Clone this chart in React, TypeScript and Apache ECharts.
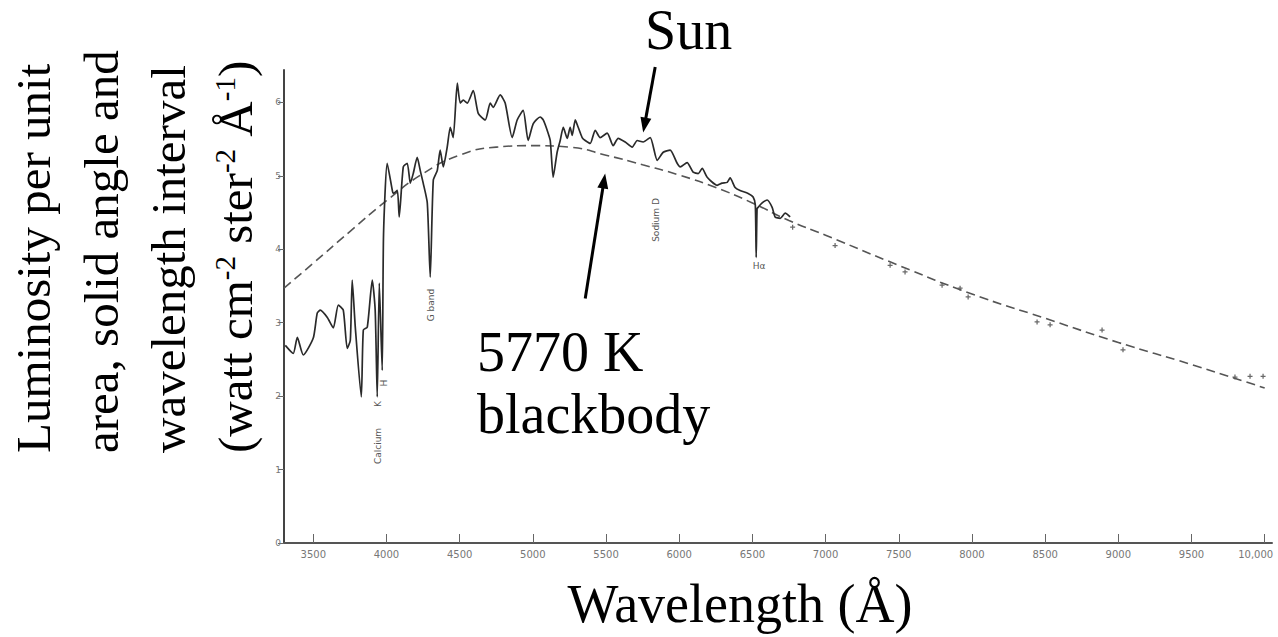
import React, { useEffect, useRef } from "react";
import * as echarts from "echarts";

const wavelengthTicks = [3500, 4000, 4500, 5000, 5500, 6000, 6500, 7000, 7500, 8000, 8500, 9000, 9500, 10000];
const luminosityTicks = [0, 1, 2, 3, 4, 5, 6];

const sunWavelength = [
  3309, 3363, 3391, 3432, 3500, 3527, 3548, 3596, 3637, 3671, 3705, 3732, 3753, 3766, 3787, 3828, 3842, 3869,
  3903, 3923, 3937, 3951, 3971, 3980, 4005, 4040, 4046, 4074, 4087, 4115, 4142, 4163, 4183, 4210, 4231, 4251,
  4279, 4299, 4320, 4347, 4367, 4388, 4415, 4436, 4456, 4484, 4504, 4525, 4552, 4593, 4627, 4675, 4709, 4729,
  4777, 4811, 4859, 4893, 4934, 4968, 5003, 5050, 5071, 5098, 5119, 5139, 5166, 5187, 5208, 5235, 5255, 5269,
  5290, 5310, 5337, 5358, 5392, 5426, 5460, 5508, 5549, 5583, 5631, 5679, 5713, 5754, 5802, 5850, 5891, 5938,
  5986, 6007, 6054, 6095, 6130, 6157, 6191, 6259, 6293, 6328, 6348, 6382, 6416, 6471, 6505, 6520, 6526, 6532,
  6539, 6567, 6601, 6635, 6655, 6690, 6724, 6758,
];
const sunLuminosity = [
  2.69, 2.58, 2.8, 2.56, 2.79, 3.13, 3.17, 3.07, 2.93, 3.24, 3.17, 2.65, 2.76, 3.58, 2.94, 1.99, 2.9, 2.94,
  3.58, 3.17, 1.99, 3.54, 2.35, 4.2, 5.17, 4.8, 4.76, 4.8, 4.44, 5.12, 5.17, 4.9, 5.03, 5.25, 5.07, 4.9,
  4.63, 3.62, 4.94, 5.07, 5.35, 5.12, 5.39, 5.66, 5.52, 6.26, 5.99, 6.03, 5.99, 6.16, 5.85, 5.76, 5.99, 5.93,
  6.1, 5.99, 5.52, 5.76, 5.89, 5.48, 5.71, 5.8, 5.76, 5.62, 5.48, 4.98, 5.32, 5.48, 5.66, 5.51, 5.66, 5.55,
  5.76, 5.66, 5.52, 5.48, 5.44, 5.62, 5.52, 5.58, 5.41, 5.51, 5.46, 5.39, 5.48, 5.46, 5.52, 5.21, 5.32, 5.35,
  5.17, 5.12, 5.18, 5.05, 5.03, 5.1, 4.98, 4.87, 4.9, 4.91, 4.97, 4.84, 4.8, 4.76, 4.71, 4.6, 3.89, 4.55,
  4.57, 4.63, 4.67, 4.57, 4.44, 4.42, 4.49, 4.44,
];

const blackbodyWavelength = [3300, 3500, 3750, 4000, 4250, 4500, 4750, 5000, 5250, 5500, 5750, 6000, 6250, 6500, 6750, 7000, 7500, 8000, 8500, 9000, 9500, 10000];
const blackbodyLuminosity = [3.47, 3.81, 4.24, 4.66, 5.03, 5.28, 5.39, 5.41, 5.39, 5.28, 5.15, 5.01, 4.84, 4.63, 4.39, 4.19, 3.78, 3.39, 3.06, 2.73, 2.43, 2.11];

const pointWavelength = [6775, 7065, 7441, 7543, 7796, 7919, 7974, 8445, 8534, 8889, 9032, 9797, 9900, 9989];
const pointLuminosity = [4.3, 4.05, 3.78, 3.69, 3.51, 3.47, 3.35, 3.01, 2.97, 2.9, 2.63, 2.26, 2.27, 2.27];

const sunArrowFrom = [5836, 6.48];
const sunArrowTo = [5754, 5.59];
const bodyArrowFrom = [5358, 3.33];
const bodyArrowTo = [5494, 5.03];

const yTitleLines = [
  "Luminosity per unit",
  "area, solid angle and",
  "wavelength interval",
  "(watt cm{sup|-2} ster{sup|-2} Å{sup|-1})",
];
const xTitle = "Wavelength (Å)";
const sunLabel = "Sun";
const bodyLabel = ["5770 K", "blackbody"];

const zip = (a: number[], b: number[]) => a.map((x, i) => [x, b[i]]);

export default function App() {
  const ref = useRef<HTMLDivElement>(null);

  useEffect(() => {
    if (!ref.current) return;
    const chart = echarts.init(ref.current, null, { renderer: "svg" });
    const serif = '"Liberation Serif", "Times New Roman", serif';
    const sans = '"DejaVu Sans", "Liberation Sans", sans-serif';
    const titleX = [33, 101, 168, 235];

    const smallLabel = (text: string, x: number, y: number, rotate = true) => ({
      type: "text",
      x,
      y,
      rotation: rotate ? Math.PI / 2 : 0,
      style: {
        text,
        fontSize: 9,
        fontFamily: sans,
        fill: "#555",
        align: "center",
        verticalAlign: "middle",
        textAlign: "center",
        textVerticalAlign: "middle",
      },
    });

    chart.setOption({
      animation: false,
      backgroundColor: "#ffffff",
      grid: { left: 284, right: 6, top: 70, bottom: 94, containLabel: false, outerBoundsMode: "none" },
      xAxis: {
        type: "value",
        min: 3300,
        max: 10050,
        splitLine: { show: false },
        axisLine: { show: true, onZero: false, lineStyle: { color: "#555", width: 2 } },
        axisTick: { show: true, inside: true, length: 9, customValues: wavelengthTicks, lineStyle: { color: "#666", width: 1 } },
        axisLabel: {
          customValues: wavelengthTicks,
          color: "#777",
          fontSize: 10,
          fontFamily: sans,
          margin: 6,
          formatter: (v: number) => (v === 10000 ? "{last|10,000}" : String(v)),
          rich: { last: { color: "#777", fontSize: 10, fontFamily: sans, padding: [0, 18, 0, 0] } },
        },
      },
      yAxis: {
        type: "value",
        min: 0,
        max: 6.44,
        splitLine: { show: false },
        axisLine: { show: true, lineStyle: { color: "#444", width: 2 } },
        axisTick: { show: true, inside: false, length: 6, customValues: luminosityTicks, lineStyle: { color: "#666", width: 1 } },
        axisLabel: { customValues: luminosityTicks, color: "#777", fontSize: 9, fontFamily: sans, margin: 3 },
      },
      series: [
        {
          name: "5770 K blackbody",
          type: "line",
          data: zip(blackbodyWavelength, blackbodyLuminosity),
          smooth: true,
          showSymbol: false,
          lineStyle: { color: "#555", width: 1.6, type: [9, 5] },
        },
        {
          name: "Sun",
          type: "line",
          data: zip(sunWavelength, sunLuminosity),
          smooth: 0.2,
          showSymbol: false,
          lineStyle: { color: "#2a2a2a", width: 1.7 },
        },
        {
          name: "points",
          type: "scatter",
          data: zip(pointWavelength, pointLuminosity),
          symbol: "path://M3,0h2v8h-2zM0,3h8v2h-8z",
          symbolSize: 5,
          itemStyle: { color: "#444" },
        },
      ],
    });

    const arrow = (from: number[], to: number[], id: string) => {
      const p0 = chart.convertToPixel({ gridIndex: 0 }, from) as number[];
      const p1 = chart.convertToPixel({ gridIndex: 0 }, to) as number[];
      const dx = p1[0] - p0[0];
      const dy = p1[1] - p0[1];
      const len = Math.hypot(dx, dy);
      const ux = dx / len;
      const uy = dy / len;
      const headL = 15;
      const headW = 5.5;
      const bx = p1[0] - ux * headL;
      const by = p1[1] - uy * headL;
      return [
        {
          type: "line",
          id: id + "-shaft",
          shape: { x1: p0[0], y1: p0[1], x2: bx + ux * 2, y2: by + uy * 2 },
          style: { stroke: "#000", lineWidth: 3 },
        },
        {
          type: "polygon",
          id: id + "-head",
          shape: {
            points: [
              [p1[0], p1[1]],
              [bx - uy * headW, by + ux * headW],
              [bx + uy * headW, by - ux * headW],
            ],
          },
          style: { fill: "#000" },
        },
      ];
    };

    chart.setOption({
      graphic: [
        ...arrow(sunArrowFrom, sunArrowTo, "sunArrow"),
        ...arrow(bodyArrowFrom, bodyArrowTo, "bodyArrow"),
        ...yTitleLines.map((t, i) => ({
          type: "text",
          x: titleX[i],
          y: 453,
          rotation: Math.PI / 2,
          style: {
            text: t,
            fontSize: 49,
            fontFamily: serif,
            fill: "#000",
            align: "left",
            verticalAlign: "middle",
            textAlign: "left",
            textVerticalAlign: "middle",
            rich: { sup: { fontSize: 29, fontFamily: serif, fill: "#000", verticalAlign: "top" } },
          },
        })),
        {
          type: "text",
          x: 740,
          y: 604,
          style: {
            text: xTitle, fontSize: 54, fontFamily: serif, fill: "#000",
            align: "center", verticalAlign: "middle", textAlign: "center", textVerticalAlign: "middle",
          },
        },
        {
          type: "text",
          x: 645,
          y: 30,
          style: {
            text: sunLabel, fontSize: 56, fontFamily: serif, fill: "#000",
            align: "left", verticalAlign: "middle", textAlign: "left", textVerticalAlign: "middle",
          },
        },
        ...bodyLabel.map((t, i) => ({
          type: "text",
          x: 477,
          y: 352 + i * 62,
          style: {
            text: t, fontSize: 56, fontFamily: serif, fill: "#000",
            align: "left", verticalAlign: "middle", textAlign: "left", textVerticalAlign: "middle",
          },
        })),
        smallLabel("Calcium", 378, 446),
        smallLabel("K", 378, 404),
        smallLabel("H", 384, 383),
        smallLabel("G band", 431, 305),
        smallLabel("Sodium D", 656, 220),
        smallLabel("Hα", 759, 266, false),
      ],
    });
    return () => chart.dispose();
  }, []);

  return (
    <div
      ref={ref}
      style={{ position: "fixed", left: 0, top: 0, width: 1278, height: 637, background: "#fff" }}
    />
  );
}
